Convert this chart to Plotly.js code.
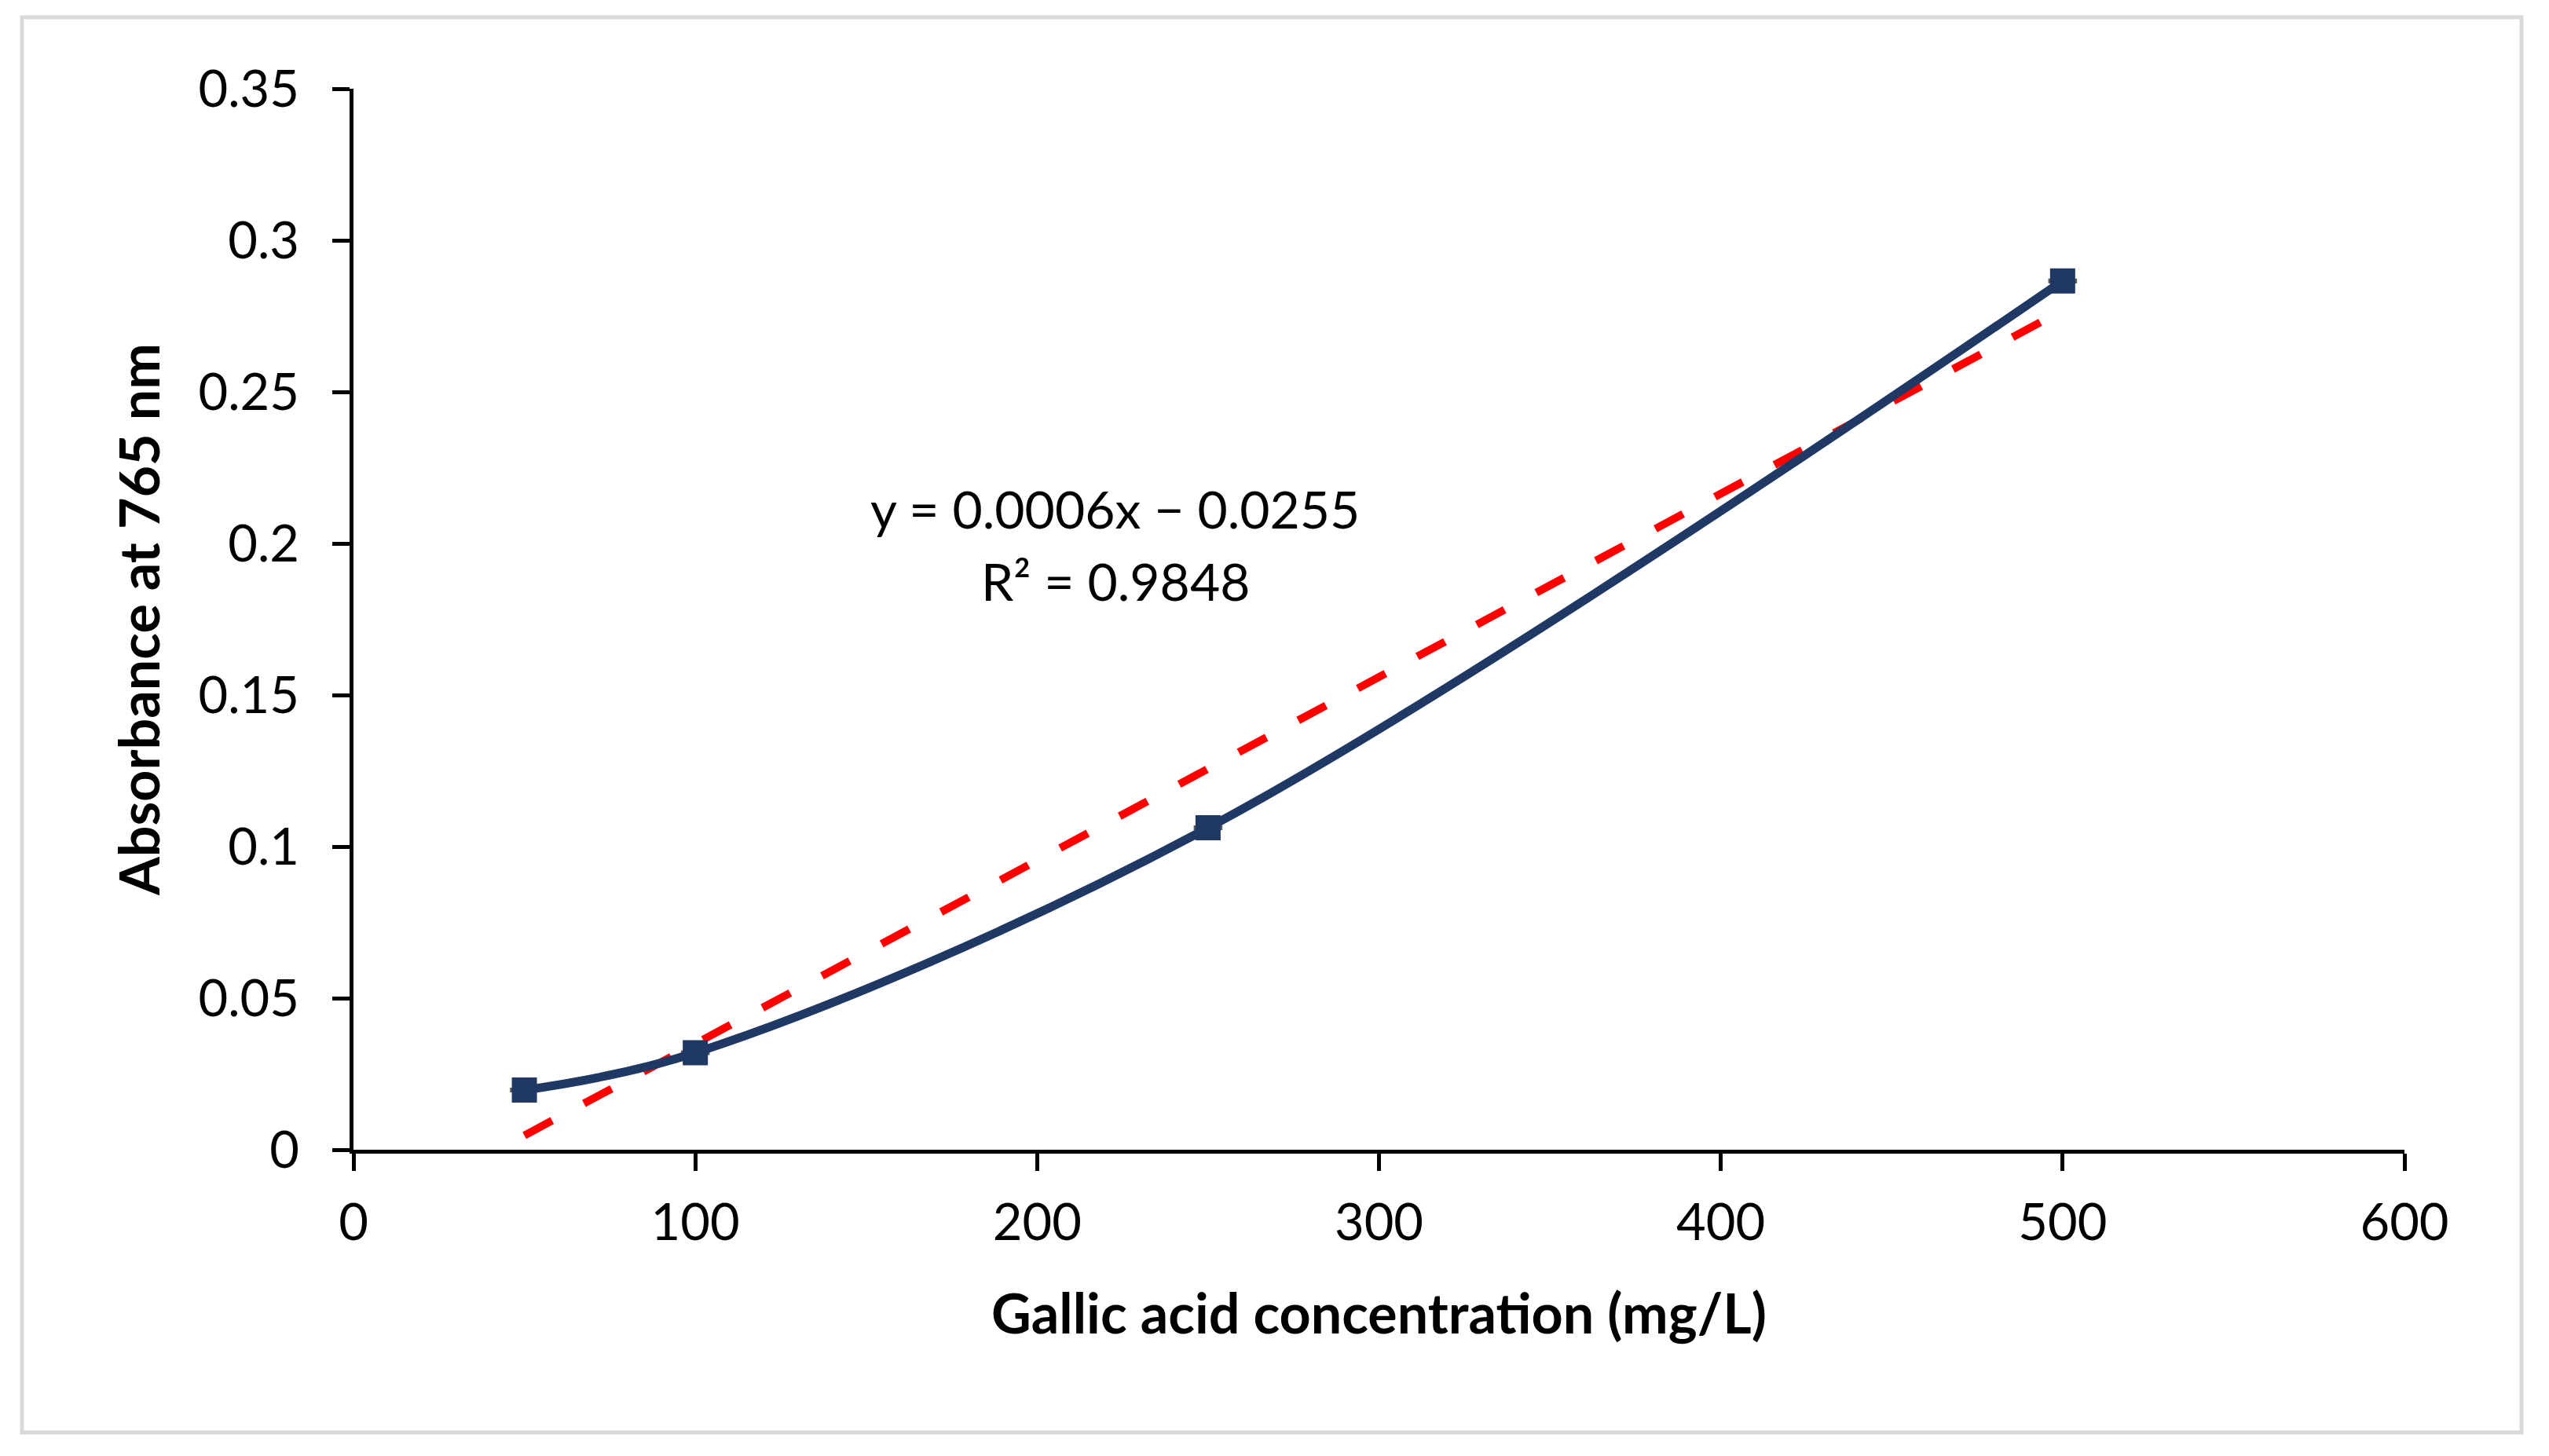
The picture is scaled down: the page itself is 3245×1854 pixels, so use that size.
<!DOCTYPE html>
<html>
<head>
<meta charset="utf-8">
<script src="https://cdn.plot.ly/plotly-3.0.1.min.js"></script>
<style>
html,body{margin:0;padding:0;background:#fff;}
#chart{width:3245px;height:1854px;}
</style>
</head>
<body>
<div id="chart"></div>
<script>
// Data
var concentration = [50, 100, 250, 500];          // mg/L
var absorbance = [0.0197, 0.032, 0.1062, 0.2866];  // at 765 nm
var errX = [4.2, 4.2, 4.2, 4.2];
var trendX = [50, 500];
var trendY = [0.0047, 0.2769];
var xTicks = [0, 100, 200, 300, 400, 500, 600];
var yTicks = [0, 0.05, 0.1, 0.15, 0.2, 0.25, 0.3, 0.35];
var yTickText = ['0', '0.05', '0.1', '0.15', '0.2', '0.25', '0.3', '0.35'];
var equationText = 'y = 0.0006x \u2212 0.0255';
var r2Text = 'R\u00B2 = 0.9848';
var xTitle = 'Gallic acid concentration (mg/L)';
var yTitle = 'Absorbance at 765 nm';

var W = 3245, H = 1854;
var L = 450, R = 184, T = 113, B = 390;
var pw = W - L - R, ph = H - T - B;
function px2paperX(p){ return (p - L) / pw; }
function px2paperY(p){ return (H - B - p) / ph; }

var FONT = 'Lato, "Open Sans", sans-serif';
var navy = '#203864';

var traces = [
  {
    x: trendX, y: trendY, type: 'scatter', mode: 'lines',
    line: {color: '#FF0000', width: 10, dash: '40px,46px'},
    hoverinfo: 'skip', showlegend: false
  },
  {
    x: concentration, y: absorbance, type: 'scatter', mode: 'lines+markers',
    line: {color: navy, width: 11, shape: 'spline', smoothing: 1},
    marker: {symbol: 'square', size: 32, color: navy},
    error_x: {type: 'data', array: errX, visible: true, color: '#595959', thickness: 6, width: 0},
    showlegend: false
  }
];

var layout = {
  width: W, height: H,
  margin: {l: L, r: R, t: T, b: B, pad: 0},
  paper_bgcolor: '#ffffff', plot_bgcolor: '#ffffff',
  showlegend: false,
  font: {family: FONT, color: '#000000', size: 65},
  xaxis: {
    range: [0, 600], tickvals: xTicks, ticktext: xTicks.map(String),
    showgrid: false, zeroline: false,
    showline: true, linecolor: '#000000', linewidth: 5,
    ticks: 'outside', ticklen: 22, tickwidth: 5, tickcolor: '#000000',
    ticklabelstandoff: 10,
    tickfont: {family: FONT, size: 65, color: '#000000'},
    title: {text: xTitle, font: {family: FONT, size: 70, color: '#000000', weight: 'bold'}, standoff: 58},
    automargin: false
  },
  yaxis: {
    range: [0, 0.35], tickvals: yTicks, ticktext: yTickText,
    showgrid: false, zeroline: false,
    showline: true, linecolor: '#000000', linewidth: 5,
    ticks: 'outside', ticklen: 22, tickwidth: 5, tickcolor: '#000000',
    ticklabelstandoff: 29,
    tickfont: {family: FONT, size: 65, color: '#000000'},
    title: {text: yTitle, font: {family: FONT, size: 70, color: '#000000', weight: 'bold'}, standoff: 28},
    automargin: false
  },
  annotations: [
    {x: 222.8, y: 0.2116, xref: 'x', yref: 'y', text: equationText, showarrow: false,
     xanchor: 'center', yanchor: 'middle', font: {family: FONT, size: 66, color: '#000000'}},
    {x: 222.8, y: 0.1878, xref: 'x', yref: 'y', text: r2Text, showarrow: false,
     xanchor: 'center', yanchor: 'middle', font: {family: FONT, size: 66, color: '#000000'}}
  ],
  shapes: [
    {type: 'rect', xref: 'paper', yref: 'paper',
     x0: px2paperX(28), x1: px2paperX(3210), y0: px2paperY(1824), y1: px2paperY(22),
     line: {color: '#D9D9D9', width: 5}, fillcolor: 'rgba(0,0,0,0)', layer: 'below'}
  ]
};

Plotly.newPlot('chart', traces, layout, {staticPlot: true, displayModeBar: false});
</script>
</body>
</html>
